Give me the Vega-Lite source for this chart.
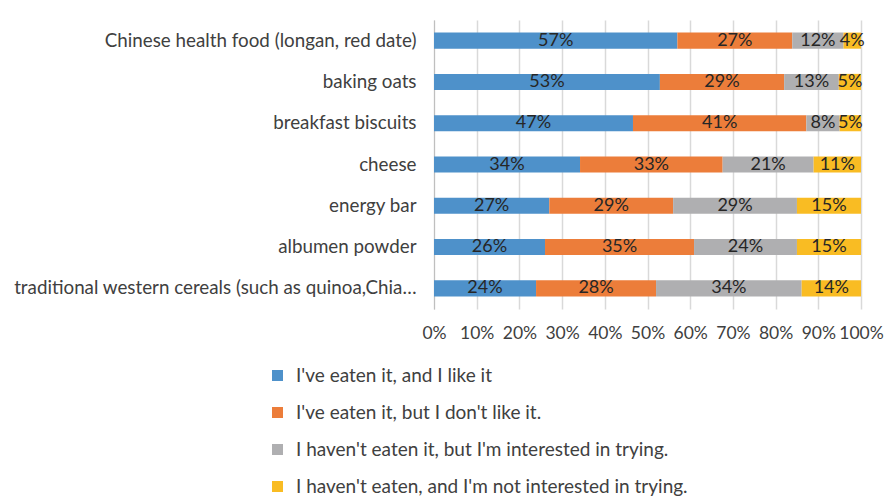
{
  "$schema": "https://vega.github.io/schema/vega-lite/v6.json",
  "autosize": "none",
  "width": 427,
  "height": 289,
  "padding": {"left": 434, "top": 20, "right": 25, "bottom": 190},
  "background": "white",
  "config": {
    "font": "Lato",
    "view": {"stroke": null}
  },
  "data": {
    "values": [
      {"item": "Chinese health food (longan, red date)", "answer": "I've eaten it, and I like it", "k": 1, "value": 0.57},
      {"item": "Chinese health food (longan, red date)", "answer": "I've eaten it, but I don't like it.", "k": 2, "value": 0.269},
      {"item": "Chinese health food (longan, red date)", "answer": "I haven't eaten it, but I'm interested in trying.", "k": 3, "value": 0.12},
      {"item": "Chinese health food (longan, red date)", "answer": "I haven't eaten, and I'm not interested in trying.", "k": 4, "value": 0.041},
      {"item": "baking oats", "answer": "I've eaten it, and I like it", "k": 1, "value": 0.529},
      {"item": "baking oats", "answer": "I've eaten it, but I don't like it.", "k": 2, "value": 0.291},
      {"item": "baking oats", "answer": "I haven't eaten it, but I'm interested in trying.", "k": 3, "value": 0.128},
      {"item": "baking oats", "answer": "I haven't eaten, and I'm not interested in trying.", "k": 4, "value": 0.052},
      {"item": "breakfast biscuits", "answer": "I've eaten it, and I like it", "k": 1, "value": 0.466},
      {"item": "breakfast biscuits", "answer": "I've eaten it, but I don't like it.", "k": 2, "value": 0.406},
      {"item": "breakfast biscuits", "answer": "I haven't eaten it, but I'm interested in trying.", "k": 3, "value": 0.078},
      {"item": "breakfast biscuits", "answer": "I haven't eaten, and I'm not interested in trying.", "k": 4, "value": 0.05},
      {"item": "cheese", "answer": "I've eaten it, and I like it", "k": 1, "value": 0.342},
      {"item": "cheese", "answer": "I've eaten it, but I don't like it.", "k": 2, "value": 0.334},
      {"item": "cheese", "answer": "I haven't eaten it, but I'm interested in trying.", "k": 3, "value": 0.213},
      {"item": "cheese", "answer": "I haven't eaten, and I'm not interested in trying.", "k": 4, "value": 0.111},
      {"item": "energy bar", "answer": "I've eaten it, and I like it", "k": 1, "value": 0.27},
      {"item": "energy bar", "answer": "I've eaten it, but I don't like it.", "k": 2, "value": 0.29},
      {"item": "energy bar", "answer": "I haven't eaten it, but I'm interested in trying.", "k": 3, "value": 0.29},
      {"item": "energy bar", "answer": "I haven't eaten, and I'm not interested in trying.", "k": 4, "value": 0.15},
      {"item": "albumen powder", "answer": "I've eaten it, and I like it", "k": 1, "value": 0.26},
      {"item": "albumen powder", "answer": "I've eaten it, but I don't like it.", "k": 2, "value": 0.349},
      {"item": "albumen powder", "answer": "I haven't eaten it, but I'm interested in trying.", "k": 3, "value": 0.241},
      {"item": "albumen powder", "answer": "I haven't eaten, and I'm not interested in trying.", "k": 4, "value": 0.15},
      {"item": "traditional western cereals (such as quinoa,Chia…", "answer": "I've eaten it, and I like it", "k": 1, "value": 0.239},
      {"item": "traditional western cereals (such as quinoa,Chia…", "answer": "I've eaten it, but I don't like it.", "k": 2, "value": 0.281},
      {"item": "traditional western cereals (such as quinoa,Chia…", "answer": "I haven't eaten it, but I'm interested in trying.", "k": 3, "value": 0.341},
      {"item": "traditional western cereals (such as quinoa,Chia…", "answer": "I haven't eaten, and I'm not interested in trying.", "k": 4, "value": 0.139}
    ]
  },
  "encoding": {
    "y": {
      "field": "item",
      "type": "nominal",
      "sort": null,
      "scale": {"paddingInner": 0.61, "paddingOuter": 0.305},
      "axis": {
        "title": null,
        "ticks": false,
        "labelPadding": 18,
        "labelFontSize": 18.8,
        "labelColor": "#404040",
        "labelLimit": 500,
        "domainColor": "#bfbfbf",
        "grid": false
      }
    }
  },
  "layer": [
    {
      "mark": {"type": "bar"},
      "encoding": {
        "x": {
          "field": "value",
          "type": "quantitative",
          "stack": "normalize",
          "scale": {"domain": [0, 1], "nice": false},
          "axis": {
            "title": null,
            "format": ".0%",
            "values": [0, 0.1, 0.2, 0.3, 0.4, 0.5, 0.6, 0.7, 0.8, 0.9, 1],
            "domain": false,
            "ticks": false,
            "labelPadding": 15,
            "labelFontSize": 17.5,
            "labelColor": "#404040",
            "labelFlush": false,
            "labelOverlap": false,
            "labelBound": false,
            "gridColor": "#d9d9d9",
            "gridWidth": 1.5
          }
        },
        "color": {
          "field": "answer",
          "type": "nominal",
          "scale": {
            "domain": ["I've eaten it, and I like it", "I've eaten it, but I don't like it.", "I haven't eaten it, but I'm interested in trying.", "I haven't eaten, and I'm not interested in trying."],
            "range": ["#4E91CA", "#EC7D3A", "#AFAFB1", "#F9BC23"]
          },
          "legend": {
            "title": null,
            "orient": "none",
            "legendX": -166,
            "legendY": 346,
            "direction": "vertical",
            "symbolType": "square",
            "symbolSize": 121,
            "symbolStrokeWidth": 0,
            "symbolOpacity": 1,
            "labelFontSize": 19,
            "labelColor": "#404040",
            "labelOffset": 9,
            "labelLimit": 600,
            "rowPadding": 17,
            "padding": 0
          }
        },
        "order": {"field": "k", "type": "quantitative"}
      }
    },
    {
      "mark": {"type": "text", "fontSize": 18, "color": "#262626", "baseline": "middle"},
      "encoding": {
        "x": {
          "field": "value",
          "type": "quantitative",
          "stack": "normalize",
          "bandPosition": 0.5,
          "axis": {
            "title": null,
            "format": ".0%",
            "values": [0, 0.1, 0.2, 0.3, 0.4, 0.5, 0.6, 0.7, 0.8, 0.9, 1],
            "domain": false,
            "ticks": false,
            "labelPadding": 15,
            "labelFontSize": 17.5,
            "labelColor": "#404040",
            "labelFlush": false,
            "labelOverlap": false,
            "labelBound": false,
            "gridColor": "#d9d9d9",
            "gridWidth": 1.5
          }
        },
        "detail": {"field": "answer"},
        "order": {"field": "k", "type": "quantitative"},
        "text": {"field": "value", "type": "quantitative", "format": ".0%"}
      }
    }
  ]
}
